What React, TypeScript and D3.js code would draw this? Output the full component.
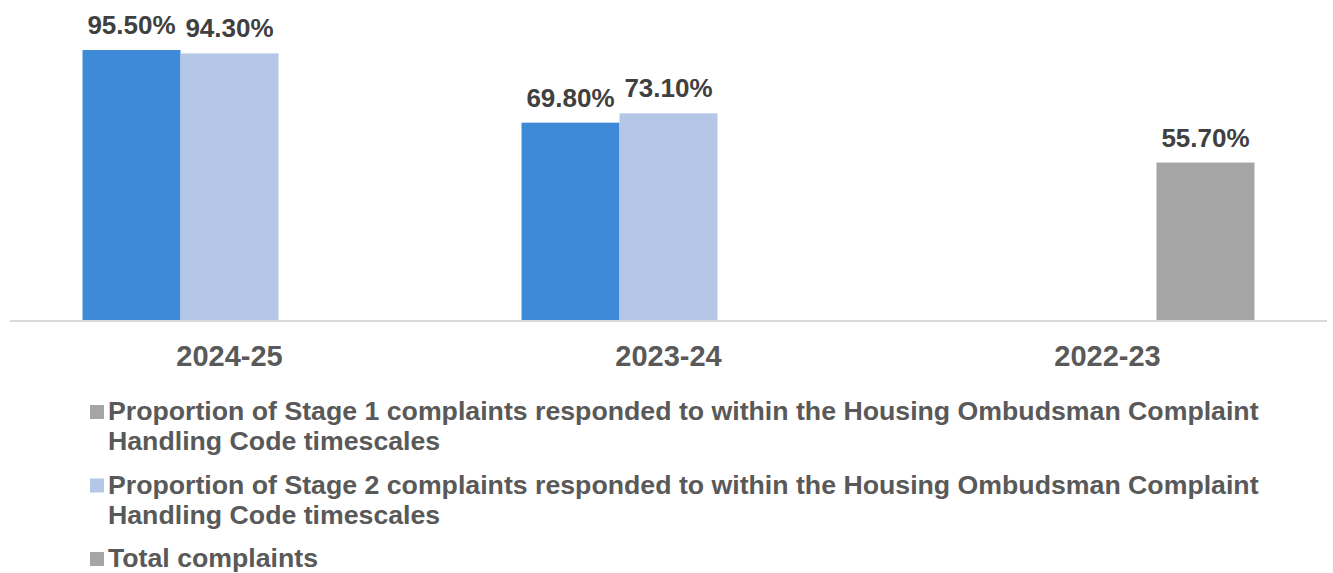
import React, { useEffect, useRef } from 'react';
import * as d3 from 'd3';

const categories = ['2024-25', '2023-24', '2022-23'];
const seriesNames = [
  'Proportion of Stage 1 complaints responded to within the Housing Ombudsman Complaint Handling Code timescales',
  'Proportion of Stage 2 complaints responded to within the Housing Ombudsman Complaint Handling Code timescales',
  'Total complaints',
];
const stage1Values: (number | null)[] = [95.5, 69.8, null];
const stage2Values: (number | null)[] = [94.3, 73.1, null];
const totalValues: (number | null)[] = [null, null, 55.7];
const barColors = ['#3E8AD8', '#B4C7E7', '#A5A5A5'];
// legend swatch for stage 1 is grey in the source chart
const legendColors = ['#A5A5A5', '#B4C7E7', '#A5A5A5'];

const FONT = '"Liberation Sans", Arial, sans-serif';

const App: React.FC = () => {
  const svgRef = useRef<SVGSVGElement>(null);

  useEffect(() => {
    document.body.style.margin = '0';
    if (!svgRef.current) return;
    const svg = d3.select(svgRef.current);
    svg.selectAll('*').remove();

    const plot = { left: 10, right: 1327, top: 37.3, bottom: 320 };
    const allSeries = [stage1Values, stage2Values, totalValues];

    const x0 = d3.scaleBand<string>()
      .domain(categories)
      .range([plot.left, plot.right])
      .padding(0);

    const x1 = d3.scaleBand<number>()
      .domain([0, 1, 2])
      .range([0, x0.bandwidth()])
      .paddingInner(0)
      .paddingOuter(0.74);

    const y = d3.scaleLinear().domain([0, 100]).range([plot.bottom, plot.top]);

    const g = svg.append('g');

    // bars
    allSeries.forEach((vals, si) => {
      categories.forEach((cat, ci) => {
        const v = vals[ci];
        if (v == null) return;
        const bx = (x0(cat) || 0) + (x1(si) || 0);
        g.append('rect')
          .attr('x', bx)
          .attr('y', y(v))
          .attr('width', x1.bandwidth())
          .attr('height', y(0) - y(v))
          .attr('fill', barColors[si]);
        g.append('text')
          .attr('x', bx + x1.bandwidth() / 2)
          .attr('y', y(v) - 16)
          .attr('text-anchor', 'middle')
          .attr('font-family', FONT)
          .attr('font-weight', 'bold')
          .attr('font-size', '26px')
          .attr('fill', '#404040')
          .text(`${v.toFixed(2)}%`);
      });
    });

    // axis line
    g.append('line')
      .attr('x1', plot.left)
      .attr('x2', plot.right)
      .attr('y1', y(0) + 1)
      .attr('y2', y(0) + 1)
      .attr('stroke', '#D9D9D9')
      .attr('stroke-width', 2);

    // category labels
    g.selectAll('text.cat')
      .data(categories)
      .enter()
      .append('text')
      .attr('class', 'cat')
      .attr('x', d => (x0(d) || 0) + x0.bandwidth() / 2)
      .attr('y', 366)
      .attr('text-anchor', 'middle')
      .attr('font-family', FONT)
      .attr('font-weight', 'bold')
      .attr('font-size', '29px')
      .attr('fill', '#595959')
      .text(d => d);

    // legend
    const maxTextWidth = 1175;
    const lineHeight = 30;
    let baseline = 420;
    seriesNames.forEach((name, i) => {
      g.append('rect')
        .attr('x', 90)
        .attr('y', baseline - 15)
        .attr('width', 14)
        .attr('height', 14)
        .attr('fill', legendColors[i]);

      const text = g.append('text')
        .attr('x', 108)
        .attr('y', baseline)
        .attr('font-family', FONT)
        .attr('font-weight', 'bold')
        .attr('font-size', '26.7px')
        .attr('fill', '#595959');

      const words = name.split(' ');
      let line: string[] = [];
      let lineNo = 0;
      let tspan = text.append('tspan').attr('x', 108).attr('y', baseline);
      words.forEach(w => {
        line.push(w);
        tspan.text(line.join(' '));
        const node = tspan.node() as SVGTSpanElement;
        if (node.getComputedTextLength() > maxTextWidth && line.length > 1) {
          line.pop();
          tspan.text(line.join(' '));
          line = [w];
          lineNo += 1;
          tspan = text.append('tspan')
            .attr('x', 108)
            .attr('y', baseline + lineNo * lineHeight)
            .text(w);
        }
      });
      baseline += lineNo * lineHeight + 43.5;
    });
  }, []);

  return (
    <svg ref={svgRef} width={1333} height={573} style={{ display: 'block', background: '#fff' }} />
  );
};

export default App;
